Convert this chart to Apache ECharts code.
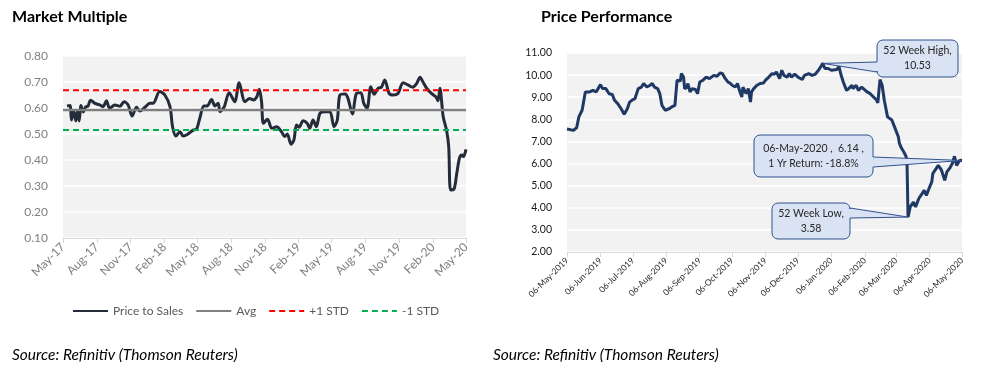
<!DOCTYPE html>
<html><head><meta charset="utf-8">
<script src="https://cdn.jsdelivr.net/npm/echarts@6/dist/echarts.min.js"></script>
<style>html,body{margin:0;padding:0;background:#fff;}#c{width:999px;height:385px;}</style>
</head><body><div id="c"></div>
<script>
// ---------- Market Multiple (Price to Sales) ----------
const mmDates = ['2017-05-12','2017-05-20','2017-05-24','2017-05-30','2017-06-05','2017-06-10','2017-06-14','2017-06-19','2017-06-25','2017-07-02','2017-07-08','2017-07-15','2017-07-27','2017-08-09','2017-08-18','2017-08-27','2017-09-05','2017-09-19','2017-10-03','2017-10-14','2017-10-25','2017-11-05','2017-11-17','2017-11-26','2017-12-10','2017-12-23','2018-01-01','2018-01-19','2018-02-02','2018-02-16','2018-02-23','2018-03-04','2018-03-15','2018-03-24','2018-04-06','2018-04-20','2018-04-29','2018-05-08','2018-05-19','2018-05-28','2018-06-09','2018-06-18','2018-06-27','2018-07-02','2018-07-13','2018-07-27','2018-08-11','2018-08-23','2018-09-08','2018-09-20','2018-10-01','2018-10-10','2018-10-17','2018-10-23','2018-10-28','2018-11-08','2018-11-20','2018-12-03','2018-12-16','2018-12-25','2019-01-01','2019-01-11','2019-01-19','2019-01-26','2019-02-02','2019-02-13','2019-02-24','2019-03-03','2019-03-12','2019-03-21','2019-03-31','2019-04-13','2019-04-27','2019-05-08','2019-05-17','2019-05-24','2019-06-07','2019-06-15','2019-06-27','2019-07-08','2019-07-20','2019-07-28','2019-08-06','2019-08-16','2019-08-25','2019-09-05','2019-09-14','2019-09-23','2019-10-05','2019-10-16','2019-10-29','2019-11-12','2019-11-26','2019-12-08','2019-12-19','2019-12-28','2020-01-05','2020-01-15','2020-01-28','2020-02-09','2020-02-15','2020-02-20','2020-02-29','2020-03-09','2020-03-15','2020-03-20','2020-03-29','2020-04-06','2020-04-13','2020-04-19','2020-04-24','2020-05-01'];
const mmValues = [0.608,0.610,0.554,0.590,0.550,0.590,0.550,0.610,0.585,0.605,0.607,0.630,0.618,0.612,0.605,0.628,0.599,0.612,0.607,0.624,0.612,0.569,0.603,0.588,0.603,0.618,0.618,0.663,0.650,0.605,0.528,0.492,0.509,0.492,0.500,0.515,0.518,0.560,0.608,0.608,0.633,0.608,0.618,0.586,0.603,0.659,0.624,0.697,0.624,0.637,0.631,0.643,0.672,0.624,0.541,0.557,0.522,0.528,0.509,0.490,0.500,0.461,0.477,0.535,0.526,0.551,0.541,0.522,0.554,0.528,0.580,0.586,0.586,0.528,0.554,0.650,0.654,0.637,0.577,0.656,0.659,0.618,0.599,0.682,0.653,0.676,0.680,0.708,0.656,0.650,0.656,0.697,0.688,0.680,0.695,0.718,0.700,0.676,0.656,0.643,0.628,0.676,0.566,0.515,0.451,0.285,0.287,0.349,0.406,0.419,0.413,0.441];
const mmAvg = 0.592;
const mmPlusStd = 0.668;
const mmMinusStd = 0.515;
const mmRange = ['2017-05-01','2020-05-01'];
const mmTickDates = ['2017-05-01','2017-08-01','2017-11-01','2018-02-01','2018-05-01','2018-08-01','2018-11-01','2019-02-01','2019-05-01','2019-08-01','2019-11-01','2020-02-01','2020-05-01'];
const mmTickLabels = ['May-17','Aug-17','Nov-17','Feb-18','May-18','Aug-18','Nov-18','Feb-19','May-19','Aug-19','Nov-19','Feb-20','May-20'];

// ---------- Price Performance ----------
const ppDates = ['2019-05-06','2019-05-12','2019-05-15','2019-05-17','2019-05-20','2019-05-23','2019-05-27','2019-05-30','2019-06-02','2019-06-06','2019-06-08','2019-06-11','2019-06-14','2019-06-17','2019-06-19','2019-06-22','2019-06-25','2019-06-28','2019-07-01','2019-07-03','2019-07-06','2019-07-08','2019-07-11','2019-07-14','2019-07-16','2019-07-19','2019-07-22','2019-07-24','2019-07-26','2019-07-29','2019-07-31','2019-08-02','2019-08-05','2019-08-06','2019-08-09','2019-08-11','2019-08-14','2019-08-16','2019-08-19','2019-08-20','2019-08-22','2019-08-23','2019-08-25','2019-08-26','2019-08-28','2019-08-30','2019-09-02','2019-09-04','2019-09-06','2019-09-09','2019-09-12','2019-09-15','2019-09-19','2019-09-22','2019-09-25','2019-09-27','2019-09-29','2019-10-02','2019-10-04','2019-10-06','2019-10-09','2019-10-11','2019-10-13','2019-10-15','2019-10-16','2019-10-19','2019-10-21','2019-10-23','2019-10-24','2019-10-26','2019-10-29','2019-11-01','2019-11-04','2019-11-06','2019-11-09','2019-11-12','2019-11-14','2019-11-16','2019-11-19','2019-11-21','2019-11-23','2019-11-26','2019-11-28','2019-11-30','2019-12-03','2019-12-06','2019-12-10','2019-12-12','2019-12-16','2019-12-19','2019-12-22','2019-12-25','2019-12-27','2019-12-29','2019-12-31','2020-01-03','2020-01-06','2020-01-11','2020-01-13','2020-01-15','2020-01-17','2020-01-20','2020-01-22','2020-01-25','2020-01-26','2020-01-29','2020-01-31','2020-02-03','2020-02-04','2020-02-08','2020-02-11','2020-02-14','2020-02-17','2020-02-18','2020-02-20','2020-02-22','2020-02-24','2020-02-27','2020-03-02','2020-03-05','2020-03-08','2020-03-09','2020-03-11','2020-03-13','2020-03-15','2020-03-16','2020-03-17','2020-03-19','2020-03-22','2020-03-24','2020-03-27','2020-03-30','2020-04-01','2020-04-03','2020-04-06','2020-04-08','2020-04-09','2020-04-12','2020-04-14','2020-04-17','2020-04-20','2020-04-22','2020-04-25','2020-04-27','2020-04-29','2020-05-01','2020-05-04','2020-05-06'];
const ppValues = [7.56,7.50,7.63,8.11,8.41,9.24,9.24,9.31,9.24,9.57,9.39,9.39,9.16,9.12,8.86,8.71,8.49,8.23,8.49,8.78,8.89,8.94,9.39,9.46,9.62,9.46,9.54,9.62,9.46,9.39,9.16,8.63,8.41,8.33,8.49,8.56,8.63,9.77,9.73,10.07,9.91,9.39,9.44,9.62,9.24,9.39,9.35,9.16,9.69,9.77,9.91,9.84,9.99,9.95,10.10,10.07,9.89,9.69,9.64,9.54,9.46,9.62,9.28,9.01,9.46,9.16,9.39,8.78,9.24,9.39,9.54,9.62,9.64,9.77,9.91,10.07,10.04,10.14,9.84,10.22,9.99,9.91,10.07,9.91,10.04,9.91,9.80,9.99,10.07,9.99,10.04,10.22,10.37,10.53,10.30,10.30,10.22,10.25,10.40,9.99,9.69,9.31,9.39,9.54,9.39,9.54,9.31,9.46,9.46,9.24,9.16,9.01,8.86,8.74,9.80,9.54,8.86,8.11,7.97,7.59,7.21,6.91,6.69,6.53,6.34,6.16,3.58,4.04,4.26,4.04,4.42,4.64,4.79,4.56,4.94,5.17,5.55,5.77,5.92,5.70,5.24,5.62,5.82,6.00,6.33,5.92,6.15,6.14];
const ppRange = ['2019-05-06','2020-05-06'];
const ppTickDates = ['2019-05-06','2019-06-06','2019-07-06','2019-08-06','2019-09-06','2019-10-06','2019-11-06','2019-12-06','2020-01-06','2020-02-06','2020-03-06','2020-04-06','2020-05-06'];
const ppTickLabels = ['06-May-2019','06-Jun-2019','06-Jul-2019','06-Aug-2019','06-Sep-2019','06-Oct-2019','06-Nov-2019','06-Dec-2019','06-Jan-2020','06-Feb-2020','06-Mar-2020','06-Apr-2020','06-May-2020'];
const calloutTexts = ['52 Week High,\n10.53', '06-May-2020 ,  6.14 ,\n1 Yr Return: -18.8%', '52 Week Low,\n3.58'];
const calloutDates = ['2019-12-29', '2020-05-06', '2020-03-17'];
const calloutValues = [10.53, 6.14, 3.58];

// ---------- helpers ----------
function ts(s){const p=s.split('-').map(Number);return Date.UTC(p[0],p[1]-1,p[2]);}
const FONT = 'Lato, "Open Sans", sans-serif';
const mmTickTs = mmTickDates.map(ts);
const ppTickTs = ppTickDates.map(ts);
function labelFor(tsArr, labels){return function(v){let best=0,bd=Infinity;tsArr.forEach((t,i)=>{const d=Math.abs(t-v);if(d<bd){bd=d;best=i;}});return bd<86400000*2?labels[best]:'';};}
function flat(value){return [[ts(mmRange[0]),value],[ts(mmRange[1]),value]];}

const chart = echarts.init(document.getElementById('c'), null, {renderer:'canvas'});
const option = {
  animation:false,
  backgroundColor:'#ffffff',
  textStyle:{fontFamily:FONT},
  title:[
    {text:'Market Multiple', left:7, top:4, textStyle:{fontSize:16, fontWeight:'bold', color:'#000', fontFamily:FONT}},
    {text:'Price Performance', left:536, top:4, textStyle:{fontSize:16, fontWeight:'bold', color:'#000', fontFamily:FONT}},
    {text:'Source: Refinitiv (Thomson Reuters)', left:7, top:342, textStyle:{fontSize:15.5, fontStyle:'italic', fontWeight:'normal', color:'#000', fontFamily:FONT}},
    {text:'Source: Refinitiv (Thomson Reuters)', left:488, top:342, textStyle:{fontSize:15.5, fontStyle:'italic', fontWeight:'normal', color:'#000', fontFamily:FONT}}
  ],
  legend:{
    data:['Price to Sales','Avg','+1 STD','-1 STD'],
    left:67, top:300, itemWidth:35, itemHeight:12, itemGap:12,
    itemStyle:{opacity:0},
    textStyle:{color:'#595959', fontSize:12, fontFamily:FONT}
  },
  grid:[
    {left:63, right:533, top:56, bottom:147, show:true, backgroundColor:'#f2f2f2', borderWidth:0},
    {left:567, right:37, top:53, bottom:133, show:true, backgroundColor:'#f2f2f2', borderWidth:0}
  ],
  xAxis:[
    {type:'value', gridIndex:0, min:ts(mmRange[0]), max:ts(mmRange[1]),
     axisLine:{lineStyle:{color:'#d9d9d9', width:1}},
     axisTick:{show:true, customValues:mmTickTs, length:5, lineStyle:{color:'#d9d9d9'}},
     axisLabel:{customValues:mmTickTs, rotate:45, formatter:labelFor(mmTickTs, mmTickLabels), color:'#7f7f7f', fontSize:12, fontFamily:FONT, margin:7},
     splitLine:{show:false}},
    {type:'value', gridIndex:1, min:ts(ppRange[0]), max:ts(ppRange[1]),
     axisLine:{lineStyle:{color:'#d9d9d9', width:1}},
     axisTick:{show:true, customValues:ppTickTs, length:5, lineStyle:{color:'#d9d9d9'}},
     axisLabel:{customValues:ppTickTs, rotate:45, formatter:labelFor(ppTickTs, ppTickLabels), color:'#262626', fontSize:8.5, fontFamily:FONT, margin:7},
     splitLine:{show:false}}
  ],
  yAxis:[
    {type:'value', gridIndex:0, min:0.1, max:0.8, interval:0.1,
     axisLine:{show:false}, axisTick:{show:false},
     axisLabel:{formatter:v=>v.toFixed(2), color:'#7f7f7f', fontSize:12, fontFamily:FONT, margin:15},
     splitLine:{lineStyle:{color:'#ffffff', width:1.5}}},
    {type:'value', gridIndex:1, min:2, max:11, interval:1,
     axisLine:{show:false}, axisTick:{show:false},
     axisLabel:{formatter:v=>v.toFixed(2), color:'#1a1a1a', fontSize:10.5, fontFamily:FONT, margin:15},
     splitLine:{lineStyle:{color:'#ffffff', width:1.5}}}
  ],
  series:[
    {name:'Price to Sales', type:'line', xAxisIndex:0, yAxisIndex:0, symbol:'none', smooth:0.3,
     data:mmDates.map((d,i)=>[ts(d), mmValues[i]]),
     lineStyle:{color:'#242c3a', width:3}, itemStyle:{color:'#242c3a'}, z:2},
    {name:'Avg', type:'line', xAxisIndex:0, yAxisIndex:0, symbol:'none', data:flat(mmAvg),
     lineStyle:{color:'#808080', width:2.5}, itemStyle:{color:'#808080'}, z:3},
    {name:'+1 STD', type:'line', xAxisIndex:0, yAxisIndex:0, symbol:'none', data:flat(mmPlusStd),
     lineStyle:{color:'#ff0000', width:2, type:[6,4]}, itemStyle:{color:'#ff0000'}, z:3},
    {name:'-1 STD', type:'line', xAxisIndex:0, yAxisIndex:0, symbol:'none', data:flat(mmMinusStd),
     lineStyle:{color:'#00b050', width:2, type:[6,4]}, itemStyle:{color:'#00b050'}, z:3},
    {name:'Price', type:'line', xAxisIndex:1, yAxisIndex:1, symbol:'none',
     data:ppDates.map((d,i)=>[ts(d), ppValues[i]]),
     lineStyle:{color:'#1f3864', width:3}, itemStyle:{color:'#1f3864'}}
  ]
};
chart.setOption(option);

// ---------- callouts (box layout + wedge to the data point) ----------
const boxes = [
  {x:877, y:40, w:81, h:37, side:'left', b1:62, b2:72},
  {x:754, y:135, w:119, h:42, side:'right', b1:157, b2:167},
  {x:772, y:203, w:78, h:36, side:'right', b1:208, b2:218}
];
function calloutShape(b, tip){
  const r=6, pts=[];
  function arc(cx,cy,a0,a1){for(let k=0;k<=4;k++){const a=(a0+(a1-a0)*k/4)*Math.PI/180;pts.push([cx+r*Math.cos(a), cy+r*Math.sin(a)]);}}
  arc(b.x+r,b.y+r,180,270);
  arc(b.x+b.w-r,b.y+r,270,360);
  if(b.side==='right'){pts.push([b.x+b.w,b.b1]);pts.push(tip);pts.push([b.x+b.w,b.b2]);}
  arc(b.x+b.w-r,b.y+b.h-r,0,90);
  arc(b.x+r,b.y+b.h-r,90,180);
  if(b.side==='left'){pts.push([b.x,b.b2]);pts.push(tip);pts.push([b.x,b.b1]);}
  return pts;
}
const graphics=[];
boxes.forEach((b,i)=>{
  const tip = chart.convertToPixel({xAxisIndex:1, yAxisIndex:1}, [ts(calloutDates[i]), calloutValues[i]]);
  graphics.push({type:'polygon', z:100, shape:{points:calloutShape(b, tip)}, style:{fill:'#dae3f3', stroke:'#2f528f', lineWidth:1}});
  graphics.push({type:'text', z:101, style:{text:calloutTexts[i], x:b.x+b.w/2, y:b.y+b.h/2, align:'center', verticalAlign:'middle', font:'10.5px '+FONT, fill:'#262626', lineHeight:15}});
});
chart.setOption({graphic:graphics});
</script></body></html>
